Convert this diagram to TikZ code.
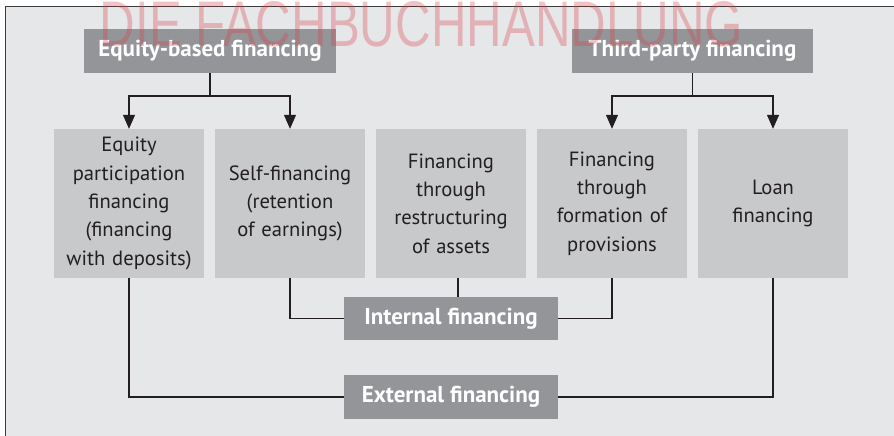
\documentclass[tikz,border=0pt]{standalone}
\usepackage{fontspec}
\setmainfont{PT Sans}
\newfontfamily\wmfont{Liberation Sans}
\usetikzlibrary{arrows.meta}
\definecolor{bgc}{HTML}{E6E7E8}
\definecolor{darkbox}{HTML}{939598}
\definecolor{lightbox}{HTML}{C8C9CB}
\definecolor{ink}{HTML}{231F20}
\definecolor{frame}{HTML}{3A3A3A}
\definecolor{wm}{HTML}{D9404E}
\begin{document}
\begin{tikzpicture}[x=1pt,y=-1pt,
  headbox/.style={fill=darkbox,text=white,inner sep=0pt,minimum height=44pt,
    font=\fontsize{23}{26}\selectfont\bfseries},
  midbox/.style={fill=lightbox,text=ink,inner sep=0pt,minimum width=150pt,minimum height=149pt,
    align=center,text width=148pt,font=\fontsize{20.6}{28.3}\selectfont},
  conn/.style={draw=ink,line width=1.2pt},
  arr/.style={conn,-{Triangle[width=12pt,length=14pt]}}]
\useasboundingbox (0,0) rectangle (894,436);
\fill[white] (0,0) rectangle (894,436);
\fill[bgc] (5,7) rectangle (894,436);
\draw[frame,line width=1pt] (5,436) -- (5,7) -- (894,7);
% header boxes
\node[headbox,minimum width=252pt] (eq) at (210,51) {Equity-based financing};
\node[headbox,minimum width=241pt] (tp) at (692.5,51) {Third-party financing};
% middle boxes
\node[midbox] (b1) at (129,203.5) {Equity\\participation\\financing\\(financing\\with deposits)};
\node[midbox] (b2) at (290,203.5) {Self-financing\\(retention\\of earnings)};
\node[midbox] (b3) at (451,203.5) {Financing\\through\\restructuring\\of assets};
\node[midbox] (b4) at (612,203.5) {Financing\\through\\formation of\\provisions};
\node[midbox] (b5) at (773,203.5) {Loan\\financing};
% bottom boxes
\node[headbox,minimum width=214pt,minimum height=43pt] (int) at (451,318.5) {Internal financing};
\node[headbox,minimum width=214pt] (ext) at (451,397) {External financing};
% connectors
\coordinate (eqj) at (210,96);
\coordinate (tpj) at (692.5,96);
\draw[conn] (eq.south) -- (eqj);
\draw[arr] (eqj) -| (b1.north);
\draw[arr] (eqj) -| (b2.north);
\draw[conn] (tp.south) -- (tpj);
\draw[arr] (tpj) -| (b4.north);
\draw[arr] (tpj) -| (b5.north);
\draw[conn] (b2.south) |- (int.west);
\draw[conn] ([xshift=7pt]b3.south) -- ([xshift=7pt]b3.south |- int.north);
\draw[conn] (b4.south) |- (int.east);
\draw[conn] (b1.south) |- (ext.west);
\draw[conn] (b5.south) |- (ext.east);
% watermark
\node[anchor=base,inner sep=0pt,text=wm,opacity=0.32] (wmk) at (421.5,46)
  {\resizebox{643pt}{45pt}{\wmfont DIE FACHBUCHHANDLUNG}};
\end{tikzpicture}
\end{document}
